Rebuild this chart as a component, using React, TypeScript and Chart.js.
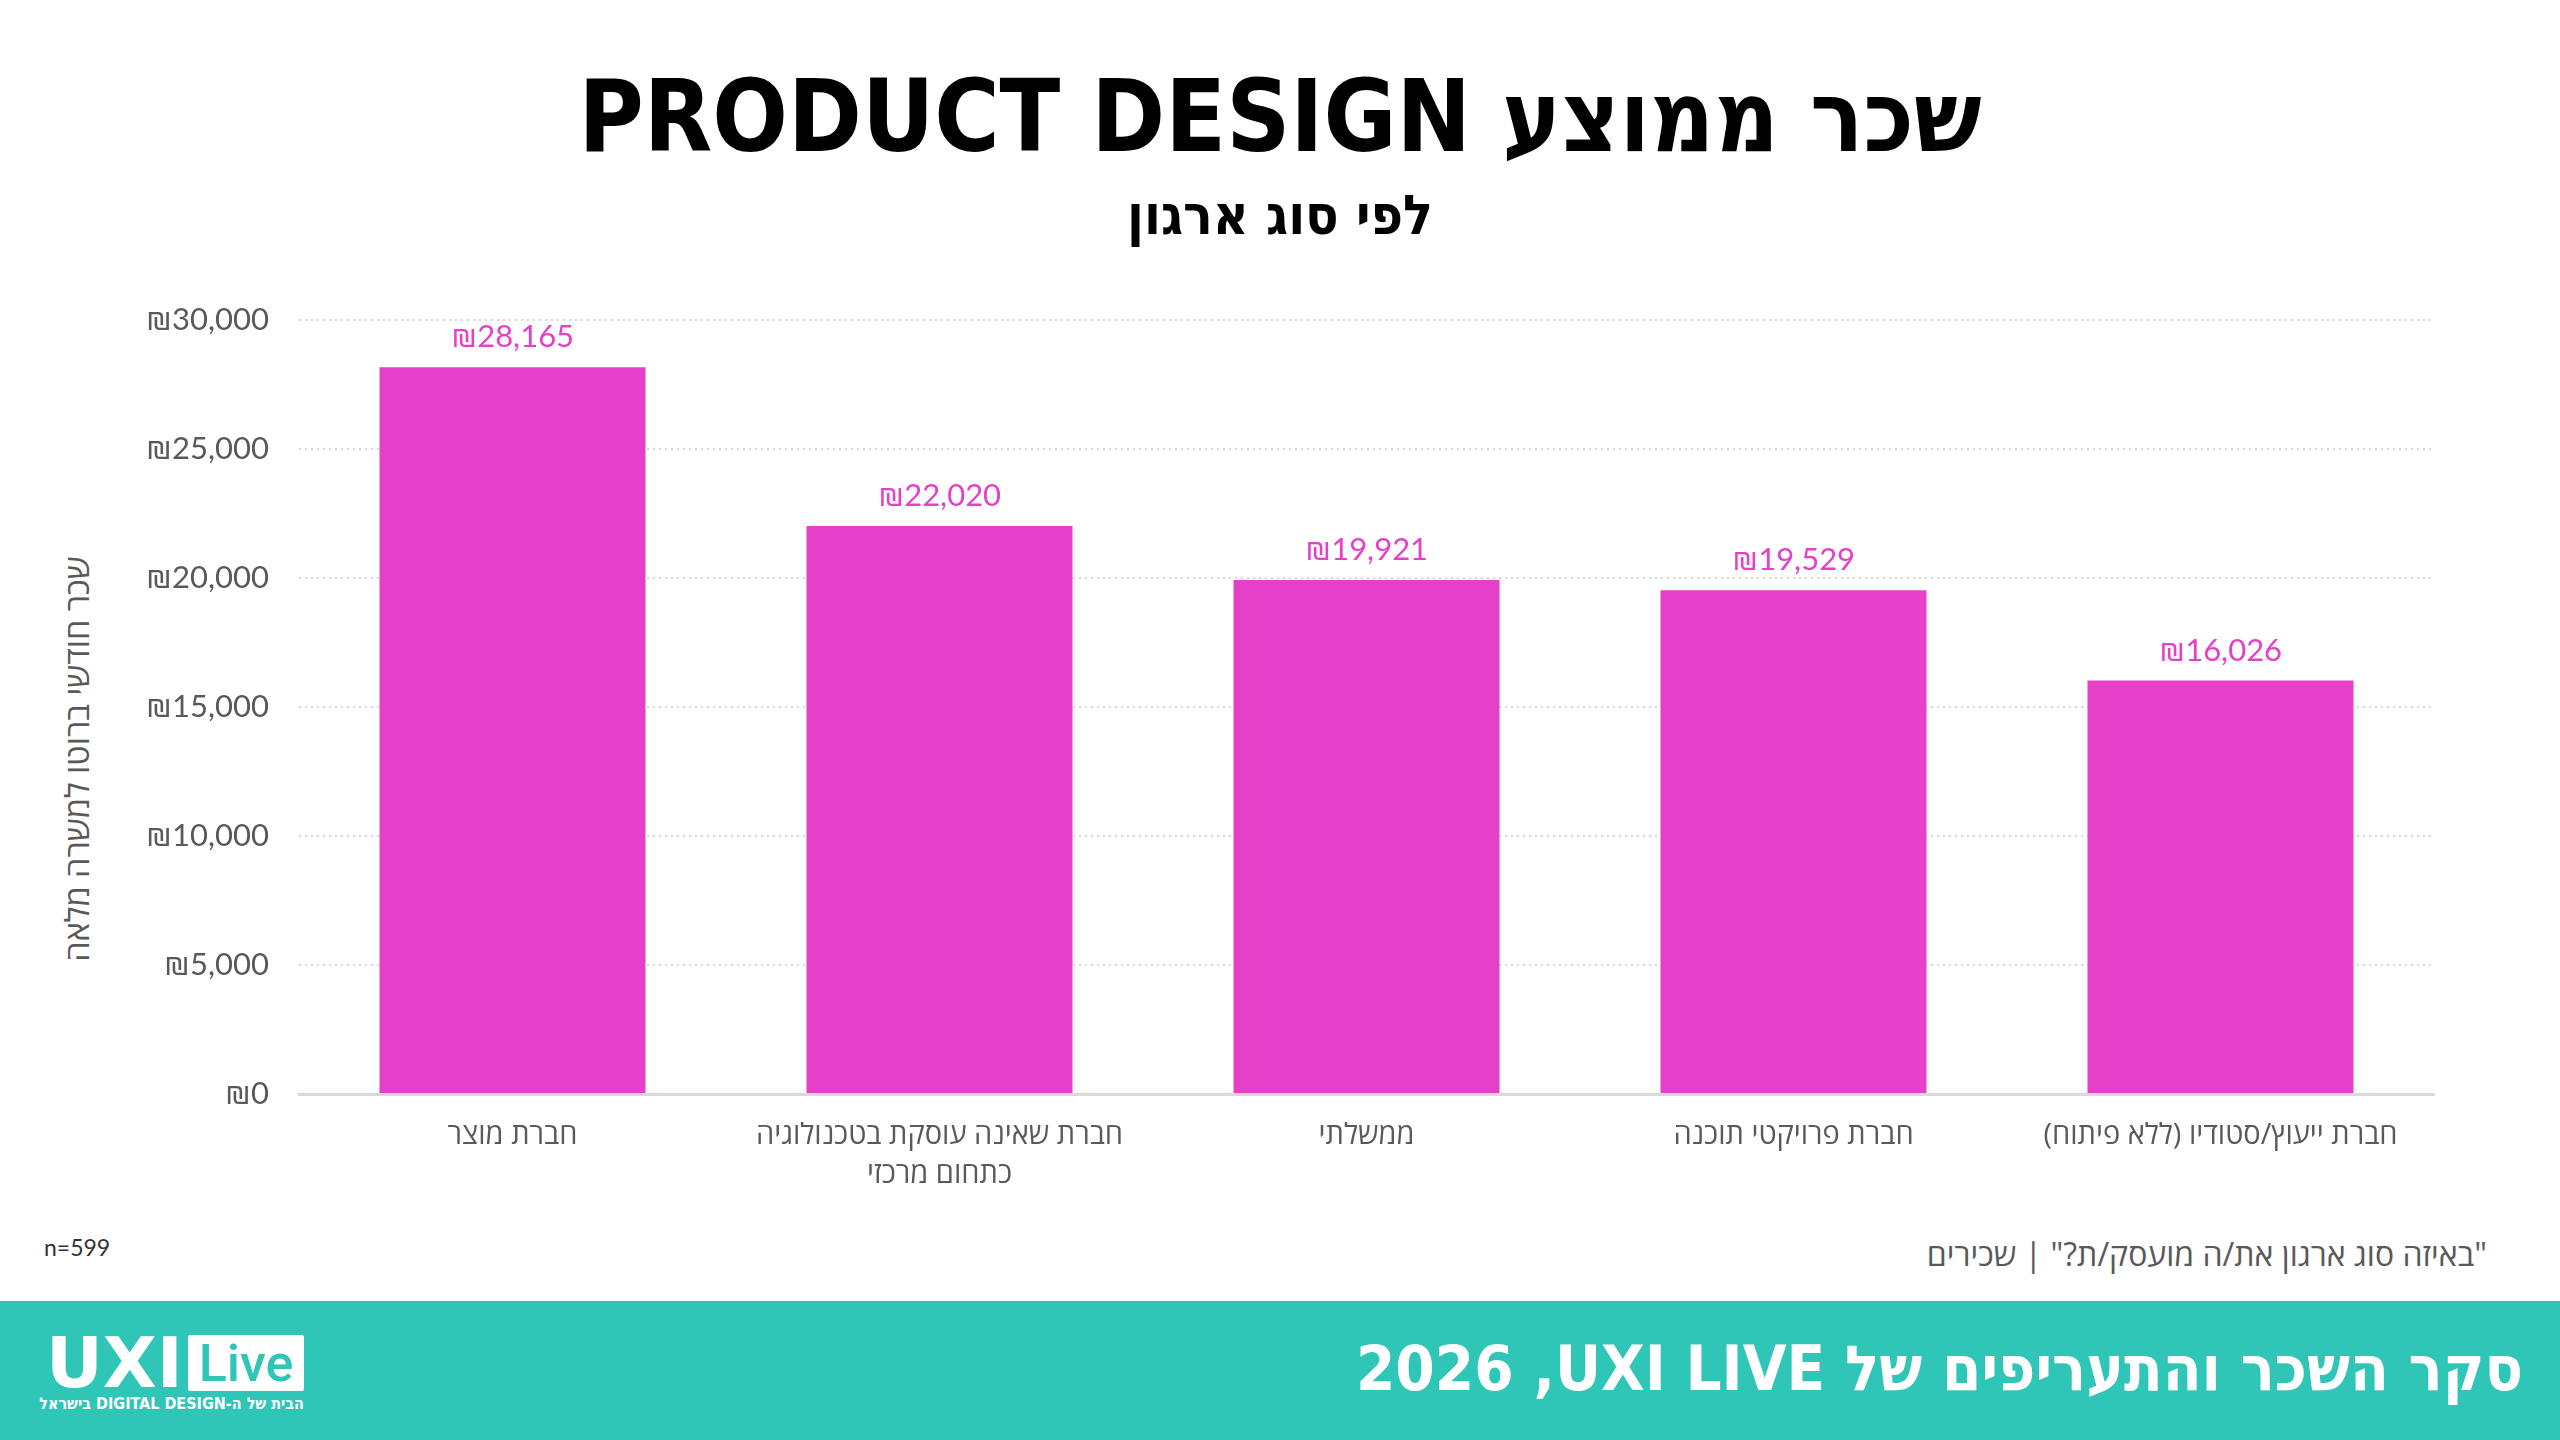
import React, { useEffect, useRef } from "react";
import { Chart, registerables } from "chart.js";

Chart.register(...registerables);

const categories: (string | string[])[] = [
  "חברת מוצר",
  ["חברת שאינה עוסקת בטכנולוגיה", "כתחום מרכזי"],
  "ממשלתי",
  "חברת פרויקטי תוכנה",
  "חברת ייעוץ/סטודיו (ללא פיתוח)",
];
const salaries: number[] = [28165, 22020, 19921, 19529, 16026];
const yTicks: number[] = [0, 5000, 10000, 15000, 20000, 25000, 30000];

const PINK = "#E540C8";
const GRAY = "#595959";
const TEAL = "#2FC5B7";
const NUM_FONT = "Lato, 'Open Sans', 'DejaVu Sans', sans-serif";
const HEB_FONT = "'Open Sans', 'DejaVu Sans Condensed', 'DejaVu Sans', sans-serif";
const HEAVY_FONT = "'DejaVu Sans Condensed', 'DejaVu Sans', sans-serif";

const fmt = (v: number) => "₪" + v.toLocaleString("en-US");

const valueLabels = {
  id: "valueLabels",
  afterDatasetsDraw(chart: any) {
    const ctx = chart.ctx;
    const meta = chart.getDatasetMeta(0);
    ctx.save();
    ctx.font = `31px ${NUM_FONT}`;
    ctx.fillStyle = PINK;
    ctx.textAlign = "center";
    ctx.textBaseline = "middle";
    meta.data.forEach((bar: any, i: number) => {
      ctx.fillText(fmt(salaries[i]), bar.x, bar.y - 30);
    });
    ctx.restore();
  },
};

export default function App() {
  const canvasRef = useRef<HTMLCanvasElement | null>(null);

  useEffect(() => {
    if (!canvasRef.current) return;
    const chart = new Chart(canvasRef.current, {
      type: "bar",
      data: {
        labels: categories,
        datasets: [
          {
            data: salaries,
            backgroundColor: PINK,
            categoryPercentage: 0.623,
            barPercentage: 1,
          },
        ],
      },
      options: {
        responsive: false,
        animation: false,
        devicePixelRatio: 1,
        layout: { padding: { top: 60, right: 126, left: 0, bottom: 0 } },
        plugins: {
          legend: { display: false },
          tooltip: { enabled: false },
        },
        scales: {
          x: {
            grid: { display: false },
            border: { display: true, color: "#d9d9d9", width: 3 },
            ticks: {
              color: GRAY,
              font: { family: HEB_FONT, size: 29, lineHeight: 1.34 },
              padding: 14,
              maxRotation: 0,
              autoSkip: false,
            },
            afterFit: (s: any) => {
              s.height = 126;
            },
          },
          y: {
            min: 0,
            max: 30000,
            afterBuildTicks: (s: any) => {
              s.ticks = yTicks.map((v) => ({ value: v }));
            },
            grid: {
              drawTicks: false,
              color: (c: any) => (c.tick && c.tick.value === 0 ? "rgba(0,0,0,0)" : "#d6d6d6"),
              lineWidth: 2,
            },
            border: { display: false, dash: [2, 4] },
            ticks: {
              color: GRAY,
              font: { family: NUM_FONT, size: 31 },
              padding: 30,
              callback: (v: any) => fmt(Number(v)),
            },
            afterFit: (s: any) => {
              s.width = 299;
            },
          },
        },
      },
      plugins: [valueLabels],
    });
    return () => chart.destroy();
  }, []);

  return (
    <div
      style={{
        position: "absolute",
        left: 0,
        top: 0,
        width: 2560,
        height: 1440,
        background: "#ffffff",
        overflow: "hidden",
      }}
    >
      <div
        dir="rtl"
        style={{
          position: "absolute",
          left: 0,
          width: 2560,
          top: 60,
          textAlign: "center",
          fontFamily: HEAVY_FONT,
          fontWeight: 900,
          fontSize: 99,
          lineHeight: "114px",
          color: "#000",
        }}
      >
        שכר ממוצע PRODUCT DESIGN
      </div>
      <div
        dir="rtl"
        style={{
          position: "absolute",
          left: 0,
          width: 2560,
          top: 183,
          textAlign: "center",
          fontFamily: HEAVY_FONT,
          fontWeight: 900,
          fontSize: 55,
          lineHeight: "64px",
          color: "#000",
        }}
      >
        לפי סוג ארגון
      </div>

      <div
        dir="rtl"
        style={{
          position: "absolute",
          left: 77 - 300,
          top: 759 - 20,
          width: 600,
          height: 40,
          lineHeight: "40px",
          textAlign: "center",
          transform: "rotate(-90deg)",
          fontFamily: HEB_FONT,
          fontSize: 32.5,
          color: GRAY,
          whiteSpace: "nowrap",
        }}
      >
        שכר חודשי ברוטו למשרה מלאה
      </div>

      <canvas
        ref={canvasRef}
        dir="rtl"
        width={2560}
        height={960}
        style={{ position: "absolute", left: 0, top: 260, width: 2560, height: 960 }}
      />

      <div
        style={{
          position: "absolute",
          left: 44,
          top: 1233,
          fontFamily: NUM_FONT,
          fontSize: 23,
          lineHeight: "28px",
          color: "#333",
        }}
      >
        n=599
      </div>
      <div
        dir="rtl"
        style={{
          position: "absolute",
          right: 2560 - 2487,
          top: 1234,
          fontFamily: HEB_FONT,
          fontSize: 32,
          lineHeight: "40px",
          color: GRAY,
          whiteSpace: "nowrap",
        }}
      >
        "באיזה סוג ארגון את/ה מועסק/ת?" | שכירים
      </div>

      <div
        style={{
          position: "absolute",
          left: 0,
          top: 1301,
          width: 2560,
          height: 139,
          background: TEAL,
        }}
      >
        <div
          dir="rtl"
          style={{
            position: "absolute",
            right: 2560 - 2523,
            top: 28,
            fontFamily: HEAVY_FONT,
            fontWeight: 900,
            fontSize: 63,
            lineHeight: "80px",
            color: "#fff",
            whiteSpace: "nowrap",
          }}
        >
          {"סקר השכר והתעריפים של UXI LIVE\u200F, 2026"}
        </div>

        <div
          style={{
            position: "absolute",
            left: 46,
            top: 34,
            height: 56,
            lineHeight: "56px",
            fontFamily: "'DejaVu Sans', sans-serif",
            fontWeight: 900,
            fontSize: 70,
            color: "#fff",
          }}
        >
          UXI
        </div>
        <div
          style={{
            position: "absolute",
            left: 188,
            top: 34,
            background: "#fff",
            height: 56,
            width: 116,
            display: "flex",
            alignItems: "center",
            justifyContent: "center",
            fontFamily: "Roboto, 'Open Sans', sans-serif",
            fontWeight: 500,
            fontSize: 52,
            color: TEAL,
            borderRadius: 2,
          }}
        >
          Live
        </div>
        <div
          dir="rtl"
          style={{
            position: "absolute",
            left: 46,
            width: 258,
            top: 94,
            textAlign: "left",
            fontFamily: "'DejaVu Sans Condensed', sans-serif",
            fontWeight: 700,
            fontSize: 16,
            lineHeight: "18px",
            color: "#fff",
            whiteSpace: "nowrap",
          }}
        >
          הבית של ה-DIGITAL DESIGN בישראל
        </div>
      </div>
    </div>
  );
}
